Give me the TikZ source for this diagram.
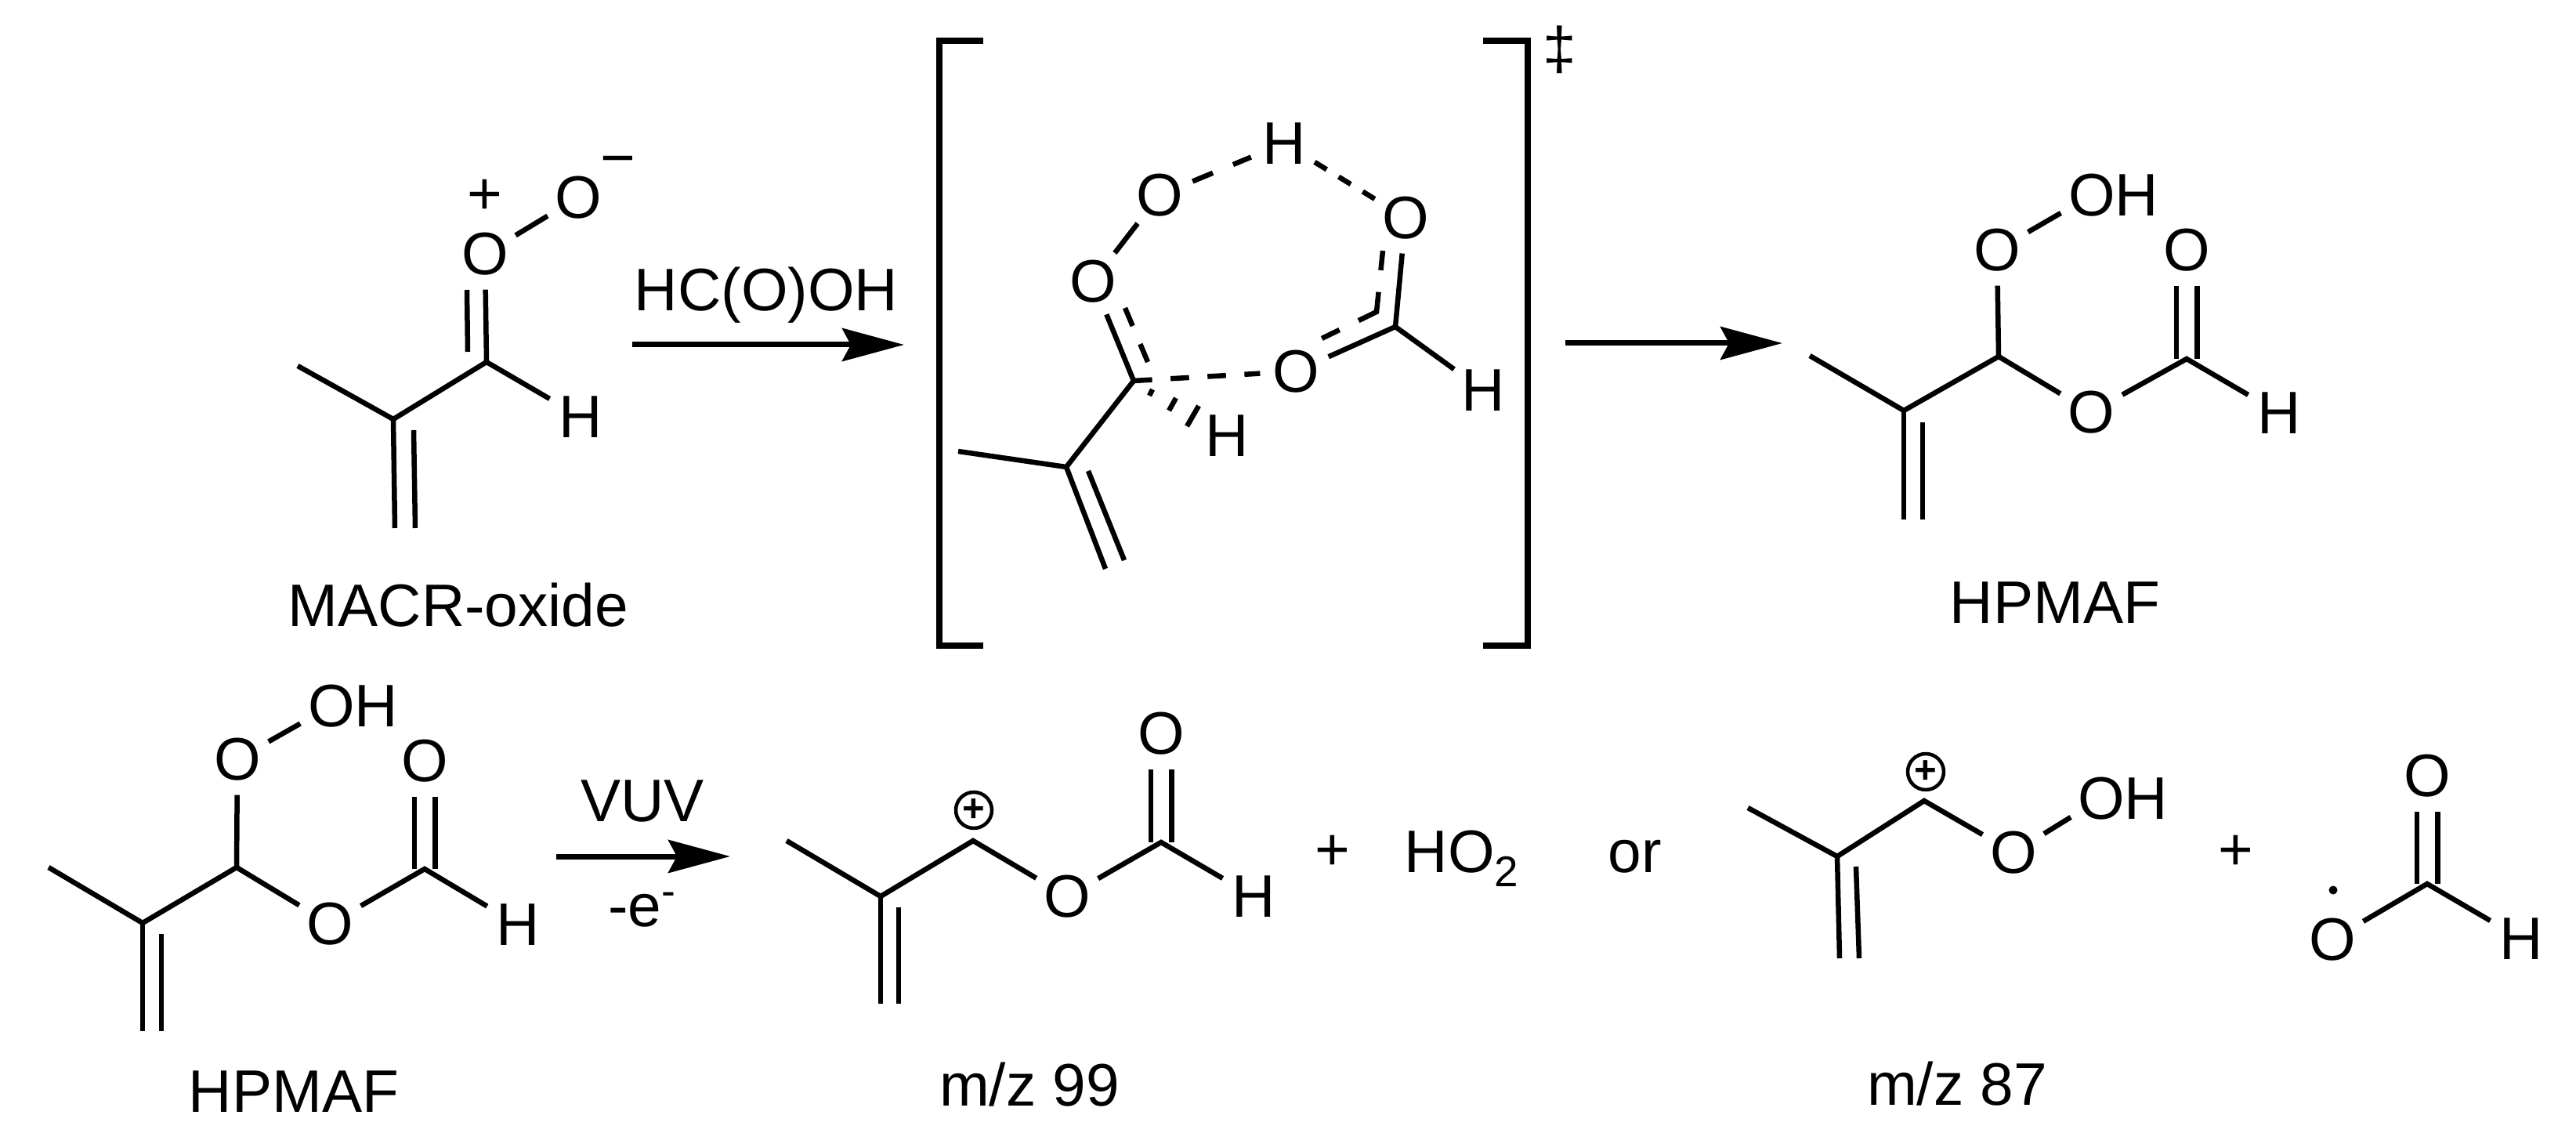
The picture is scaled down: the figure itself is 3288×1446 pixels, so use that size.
\documentclass[tikz,border=0pt]{standalone}
\usepackage{fontspec}
\setmainfont{Liberation Sans}
\usetikzlibrary{arrows.meta,positioning}
\tikzset{
    %Define standard arrow tip
    >={Stealth[length=7.9mm,width=4.2mm,inset=1.1mm]},
    font=\fontsize{21.8}{25}\selectfont,
    %Define style for atoms
    atom/.style={circle,inner sep=0pt,minimum size=9mm},
    caption/.style={anchor=base,inner sep=0pt},
    charged/.style={circle,draw=black,line width=0.45mm,inner sep=0pt,minimum size=4.6mm,
           font=\fontsize{14}{14}\selectfont\bfseries},
    % Define bond styles
    bond/.style={draw=black,line width=0.65mm},
    dblbond/.style={bond,double,double distance=2mm},
    dashbond/.style={bond,dash pattern=on #1 off #1},
    % Define arrow style
    pil/.style={->,draw=black,line width=0.7mm},
    klammer/.style={draw=black,line width=0.75mm}
}

\begin{document}
\begin{tikzpicture}[x=0.1mm,y=-0.1mm]
  \useasboundingbox (0,0) rectangle (3288,1446);

  % MACR-oxide
  \coordinate (m1) at (380,467);
  \coordinate (m2) at (502,535);
  \coordinate (m3) at (621,462);
  \coordinate (m4) at (504,674);
  \coordinate (m5) at (528,549);
  \coordinate (m6) at (530,674);
  \coordinate (m7) at (596,370);
  \coordinate (m8) at (597,449);
  \node[atom] (mo1) at (619,324) {O};
  \node[atom] (mo2) at (738,252) {O};
  \node[atom] (mh) at (741,532) {H};
  \node (mplus) at (619,251) {+};
  \node (mminus) at (789,213) {−};
  \node[caption] (mname) at (585,800) {MACR-oxide};
  \draw[bond] (m1) -- (m2) -- (m3) -- (mh);
  \draw[bond] (m2) -- (m4);
  \draw[bond] (m5) -- (m6);
  \draw[bond] (m3) -- (mo1);
  \draw[bond] (m7) -- (m8);
  \draw[bond] (mo1) -- (mo2);

  % first arrow
  \coordinate (a1) at (807,440);
  \coordinate (a2) at (1154,440);
  \draw[pil] (a1) -- (a2);
  \node[caption] (areagent) at (978,397) {HC(O)OH};

  % transition state
  \coordinate (t1) at (1223,576);
  \coordinate (t2) at (1361,596);
  \coordinate (t3) at (1447,486);
  \coordinate (t4) at (1411,726);
  \coordinate (t5) at (1389,601);
  \coordinate (t6) at (1435,715);
  \coordinate (t7) at (1436,393);
  \coordinate (t8) at (1465,462);
  \coordinate (t9) at (1781,417);
  \coordinate (t10) at (1765,320);
  \coordinate (t11) at (1757,398);
  \coordinate (t12) at (1683,434);
  \node[atom] (to1) at (1395,359) {O};
  \node[atom] (to2) at (1480,249) {O};
  \node[atom] (to3) at (1794,278) {O};
  \node[atom] (to4) at (1654,474) {O};
  \node[atom] (th1) at (1639,183) {H};
  \node[atom] (th2) at (1893,498) {H};
  \node[atom] (th3) at (1566,556) {H};
  \draw[bond] (t1) -- (t2) -- (t3) -- (to1);
  \draw[bond] (t2) -- (t4);
  \draw[bond] (t5) -- (t6);
  \draw[dashbond=2.5mm] (t7) -- (t8);
  \draw[bond] (to1) -- (to2);
  \draw[dashbond=2.8mm] (to2) -- (th1);
  \draw[dashbond=1.8mm] (th1) -- (to3);
  \draw[bond] (to3) -- (t9) -- (to4);
  \draw[bond] (t9) -- (th2);
  \draw[bond,dash pattern=on 2.5mm off 2.8mm on 5.1mm off 2.7mm on 2.5mm off 3mm] (t10) -- (t11) -- (t12);
  \draw[dashbond=2.36mm] (t3) -- (to4);
  % hashes towards H
  \coordinate (w1) at (1471,497);
  \coordinate (w2) at (1467,505);
  \coordinate (w3) at (1501,508);
  \coordinate (w4) at (1492,524);
  \coordinate (w5) at (1530,518);
  \coordinate (w6) at (1515,544);
  \draw[bond] (w1) -- (w2);
  \draw[bond] (w3) -- (w4);
  \draw[bond] (w5) -- (w6);

  % brackets
  \coordinate (b1) at (1255,52);
  \coordinate (b2) at (1199,52);
  \coordinate (b3) at (1199,824);
  \coordinate (b4) at (1255,824);
  \coordinate (b5) at (1893,52);
  \coordinate (b6) at (1950,52);
  \coordinate (b7) at (1950,824);
  \coordinate (b8) at (1893,824);
  \draw[klammer] (b1) -- (b2) -- (b3) -- (b4);
  \draw[klammer] (b5) -- (b6) -- (b7) -- (b8);
  \node (bdagger) at (1991,63) {‡};

  % second arrow
  \coordinate (a3) at (1998,438);
  \coordinate (a4) at (2275,438);
  \draw[pil] (a3) -- (a4);

  % HPMAF product
  \coordinate (p1) at (2310,454);
  \coordinate (p2) at (2430,524);
  \coordinate (p3) at (2551,455);
  \coordinate (p4) at (2430,663);
  \coordinate (p5) at (2454,539);
  \coordinate (p6) at (2454,663);
  \coordinate (p7) at (2791,458);
  \node[atom] (po1) at (2549,319) {O};
  \node[atom] (po2) at (2670,249) {O\rlap{H}};
  \node[atom] (po3) at (2669,526) {O};
  \node[atom] (po4) at (2791,319) {O};
  \node[atom] (ph) at (2909,527) {H};
  \node[caption] (pname) at (2623,796) {HPMAF};
  \draw[dblbond] (po4) -- (p7);
  \draw[bond] (p1) -- (p2) -- (p3) -- (po3);
  \draw[bond] (po3) -- (p7) -- (ph);
  \draw[bond] (p2) -- (p4);
  \draw[bond] (p5) -- (p6);
  \draw[bond] (p3) -- (po1);
  \draw[bond] (po1) -- (po2);

  % HPMAF, lower row
  \coordinate (q1) at (62,1107);
  \coordinate (q2) at (182,1178);
  \coordinate (q3) at (302,1107);
  \coordinate (q4) at (182,1316);
  \coordinate (q5) at (206,1192);
  \coordinate (q6) at (206,1316);
  \coordinate (q7) at (542,1109);
  \node[atom] (qo1) at (303,969) {O};
  \node[atom] (qo2) at (423,901) {O\rlap{H}};
  \node[atom] (qo3) at (421,1179) {O};
  \node[atom] (qo4) at (542,971) {O};
  \node[atom] (qh) at (661,1180) {H};
  \node[caption] (qname) at (375,1419) {HPMAF};
  \draw[dblbond] (qo4) -- (q7);
  \draw[bond] (q1) -- (q2) -- (q3) -- (qo3);
  \draw[bond] (qo3) -- (q7) -- (qh);
  \draw[bond] (q2) -- (q4);
  \draw[bond] (q5) -- (q6);
  \draw[bond] (q3) -- (qo1);
  \draw[bond] (qo1) -- (qo2);

  % third arrow
  \coordinate (a5) at (710,1093);
  \coordinate (a6) at (932,1093);
  \draw[pil] (a5) -- (a6);
  \node[caption] (avuv) at (820,1048) {VUV};
  \node[caption] (ae) at (820,1182) {-e\textsuperscript{-}};

  % m/z 99
  \coordinate (r1) at (1004,1073);
  \coordinate (r2) at (1124,1144);
  \coordinate (r3) at (1242,1073);
  \coordinate (r4) at (1124,1281);
  \coordinate (r5) at (1147,1158);
  \coordinate (r6) at (1147,1281);
  \coordinate (r7) at (1482,1075);
  \node[charged] (rplus) at (1243,1034) {+};
  \node[atom] (ro1) at (1362,1144) {O};
  \node[atom] (ro2) at (1482,936) {O};
  \node[atom] (rh) at (1600,1144) {H};
  \node[caption] (rname) at (1314,1411) {m/z 99};
  \draw[dblbond] (ro2) -- (r7);
  \draw[bond] (r1) -- (r2) -- (r3) -- (ro1);
  \draw[bond] (ro1) -- (r7) -- (rh);
  \draw[bond] (r2) -- (r4);
  \draw[bond] (r5) -- (r6);
  \node (rsum) at (1701,1088) {+};
  \node[caption,anchor=base west] (rho) at (1792,1113) {HO\raisebox{-1.8mm}{\fontsize{15.6}{16}\selectfont 2}};
  \node[caption] (ror) at (2087,1113) {or};

  % m/z 87
  \coordinate (s1) at (2231,1031);
  \coordinate (s2) at (2345,1093);
  \coordinate (s3) at (2456,1022);
  \coordinate (s4) at (2348,1223);
  \coordinate (s5) at (2369,1106);
  \coordinate (s6) at (2373,1223);
  \node[charged] (splus) at (2458,985) {+};
  \node[atom] (so1) at (2570,1088) {O};
  \node[atom] (so2) at (2682,1019) {O\rlap{H}};
  \node[caption] (sname) at (2498,1410) {m/z 87};
  \draw[bond] (s1) -- (s2) -- (s3) -- (so1);
  \draw[bond] (so1) -- (so2);
  \draw[bond] (s2) -- (s4);
  \draw[bond] (s5) -- (s6);
  \node (ssum) at (2854,1088) {+};

  % formyloxy radical
  \coordinate (f1) at (3098,1128);
  \node[atom] (fo1) at (3098,990) {O};
  \node[atom] (fo2) at (2977,1199) {O};
  \node[atom] (fh) at (3218,1198) {H};
  \node[circle,fill=black,inner sep=0pt,minimum size=1.1mm] (fdot) at (2978,1136) {};
  \draw[dblbond] (fo1) -- (f1);
  \draw[bond] (fo2) -- (f1) -- (fh);
\end{tikzpicture}
\end{document}
